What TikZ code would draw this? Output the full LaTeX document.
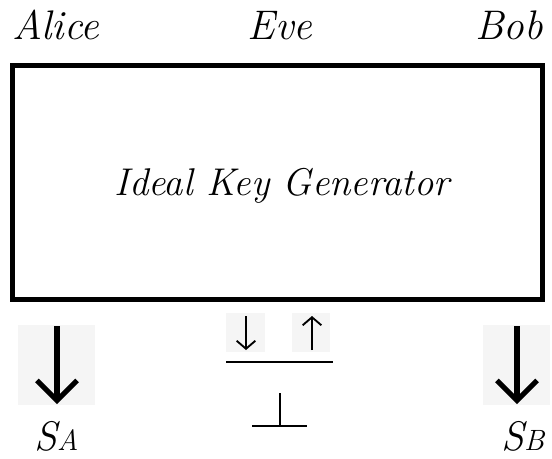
\documentclass[tikz,border=0pt]{standalone}
\usetikzlibrary{arrows.meta}
\begin{document}
\begin{tikzpicture}[x=0.75pt,y=-0.75pt,
  lbl/.style={anchor=base,inner sep=0pt,font=\rmfamily\itshape\fontsize{31}{36}\selectfont},
  keybox/.style={draw=black,line width=3.6pt,minimum width=530*0.75pt,minimum height=234*0.75pt,inner sep=0pt},
  shade/.style={fill=black!4,draw=none},
  bigarrow/.style={line width=3.8pt,-{Straight Barb[length=15pt,width=30pt,line width=3.8pt]}},
  smallarrow/.style={line width=1.4pt,-{Straight Barb[length=6pt,width=14pt,line width=1.4pt]}},
  thin/.style={line width=1.5pt}]
\useasboundingbox (0,0) rectangle (552,458);

% party names
\node[lbl] (alice) at (56,39) {Alice};
\node[lbl] (eve) at (280,39) {Eve};
\node[lbl] (bob) at (509,39) {Bob};

% the ideal key generator
\node[keybox] (gen) at (277.5,182.5) {};
\node[lbl,font=\rmfamily\itshape\fontsize{29}{34}\selectfont] (genlabel) at (282,195) {Ideal Key Generator};

% Alice's key output
\fill[shade] (18,325) rectangle (95,405);
\coordinate (a1) at (57,326);
\coordinate (a2) at (57,404);
\draw[bigarrow] (a1) -- (a2);
\node[lbl,anchor=base west] (sa) at (34,450) {S\fontsize{22}{26}\selectfont A};

% Bob's key output
\fill[shade] (483,325) rectangle (550,405);
\coordinate (b1) at (517,326);
\coordinate (b2) at (517,404);
\draw[bigarrow] (b1) -- (b2);
\node[lbl,anchor=base west] (sb) at (501,450) {S\fontsize{22}{26}\selectfont B};

% Eve's interface: choice of outcome and abort
\fill[shade] (226,313) rectangle (265,352);
\fill[shade] (292,313) rectangle (330,352);
\coordinate (e1) at (246,316);
\coordinate (e2) at (246,350);
\coordinate (e3) at (312,350);
\coordinate (e4) at (312,316);
\draw[smallarrow] (e1) -- (e2);
\draw[smallarrow] (e3) -- (e4);
\coordinate (r1) at (226,362);
\coordinate (r2) at (333,362);
\draw[thin] (r1) -- (r2);
\coordinate (p1) at (280,393);
\coordinate (p2) at (280,426);
\coordinate (p3) at (252,426);
\coordinate (p4) at (307,426);
\draw[thin] (p1) -- (p2);
\draw[thin] (p3) -- (p4);
\end{tikzpicture}
\end{document}
